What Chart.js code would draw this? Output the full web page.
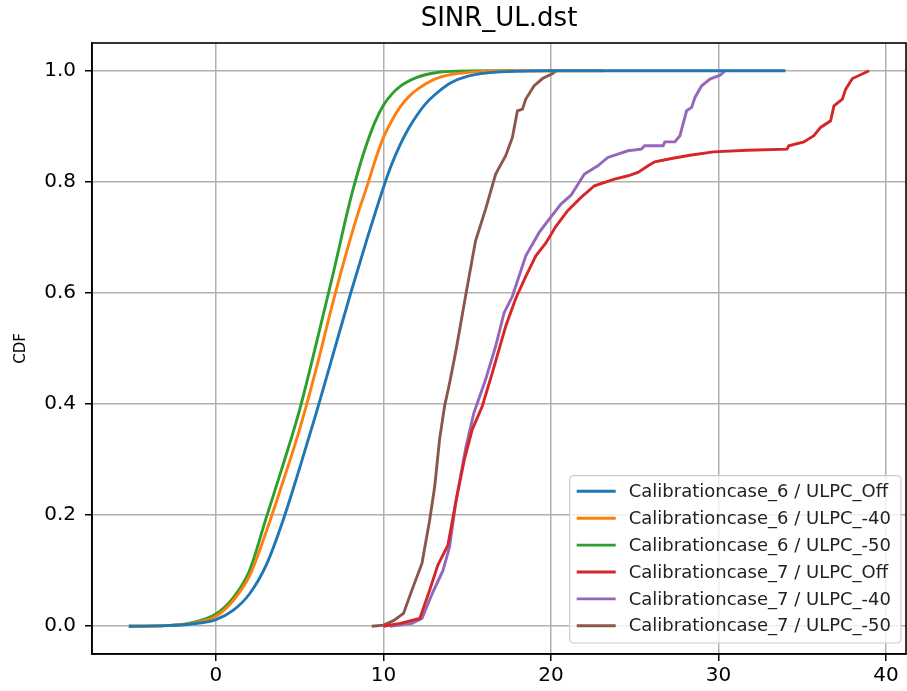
<!DOCTYPE html>
<html>
<head>
<meta charset="utf-8">
<script src="https://cdn.jsdelivr.net/npm/chart.js@4.4.1/dist/chart.umd.min.js"></script>
<style>
  body { margin: 0; background: #fff; }
  canvas { display: block; }
</style>
</head>
<body>
<canvas id="cdfChart" width="907" height="691"></canvas>
<script>
// tick positions
const xTicks = [0, 10, 20, 30, 40];
const yTicks = [0, 0.2, 0.4, 0.6, 0.8, 1.0];

const seriesNames = [
    "Calibrationcase_6 / ULPC_Off",
    "Calibrationcase_6 / ULPC_-40",
    "Calibrationcase_6 / ULPC_-50",
    "Calibrationcase_7 / ULPC_Off",
    "Calibrationcase_7 / ULPC_-40",
    "Calibrationcase_7 / ULPC_-50"
];

// Calibrationcase_6 curves (smooth)
const c6OffX = [-5.2, -3, -1.5, 0, 1, 2, 3, 4, 5, 6, 7, 8, 9, 10, 10.5, 11, 11.5, 12, 12.5, 13, 14, 15, 17, 20, 34];
const c6OffY = [0, 0.001, 0.004, 0.012, 0.028, 0.058, 0.11, 0.19, 0.285, 0.385, 0.49, 0.595, 0.695, 0.79, 0.832, 0.867, 0.896, 0.92, 0.94, 0.955, 0.978, 0.99, 0.998, 1.0, 1.0];

const c6m40X = [-5.2, -3, -1.5, 0, 1, 2, 3, 4, 5, 6, 7, 8, 8.5, 9, 9.5, 10, 10.5, 11, 11.5, 12, 13, 14, 16, 18, 23.1];
const c6m40Y = [0, 0.001, 0.005, 0.018, 0.045, 0.09, 0.17, 0.26, 0.355, 0.465, 0.585, 0.695, 0.745, 0.79, 0.838, 0.88, 0.91, 0.935, 0.953, 0.966, 0.984, 0.993, 0.999, 1.0, 1.0];

const c6m50X = [-5.2, -3, -1.5, 0, 1, 2, 3, 4, 5, 6, 7, 8, 8.5, 9, 9.5, 10, 10.5, 11, 12, 13, 14, 17.8];
const c6m50Y = [0, 0.001, 0.006, 0.022, 0.05, 0.1, 0.195, 0.29, 0.39, 0.51, 0.635, 0.765, 0.82, 0.868, 0.908, 0.938, 0.958, 0.972, 0.988, 0.996, 0.999, 1.0];

// Calibrationcase_7 curves (jagged)
const c7OffX = [10.0, 11.0, 12.17, 12.76, 13.25, 13.85, 14.34, 14.83, 15.3, 15.9, 16.5, 17.3, 17.9, 18.5, 19.1, 19.7, 20.3, 21.0, 21.8, 22.6, 23.8, 24.6, 25.2, 25.8, 26.2, 27.2, 28.3, 29.7, 31.7, 34.1, 34.2, 35.1, 35.7, 36.1, 36.7, 36.9, 37.4, 37.6, 38.0, 39.0];
const c7OffY = [0, 0.005, 0.014, 0.065, 0.11, 0.146, 0.227, 0.30, 0.354, 0.396, 0.456, 0.54, 0.59, 0.63, 0.667, 0.69, 0.72, 0.748, 0.772, 0.793, 0.805, 0.811, 0.817, 0.829, 0.836, 0.842, 0.848, 0.854, 0.857, 0.859, 0.865, 0.872, 0.883, 0.898, 0.91, 0.937, 0.949, 0.967, 0.986, 1.0];

const c7m40X = [10.4, 11.7, 12.3, 12.96, 13.55, 13.95, 14.34, 14.93, 15.4, 16.1, 16.7, 17.2, 17.7, 18.5, 19.3, 19.9, 20.6, 21.2, 22.0, 22.8, 23.4, 24.6, 25.4, 25.6, 26.7, 26.8, 27.4, 27.7, 28.1, 28.4, 28.6, 29.0, 29.5, 30.1, 30.4];
const c7m40Y = [0, 0.005, 0.014, 0.062, 0.10, 0.143, 0.227, 0.323, 0.384, 0.444, 0.504, 0.564, 0.594, 0.667, 0.709, 0.733, 0.76, 0.776, 0.814, 0.829, 0.844, 0.856, 0.859, 0.865, 0.865, 0.872, 0.872, 0.883, 0.928, 0.934, 0.952, 0.973, 0.985, 0.992, 1.0];

const c7m50X = [9.3, 10.0, 10.6, 11.2, 11.7, 12.3, 12.76, 13.06, 13.35, 13.65, 13.95, 14.34, 14.83, 15.5, 16.1, 16.7, 17.3, 17.7, 18.0, 18.3, 18.5, 19.0, 19.5, 20.1, 20.3];
const c7m50Y = [0, 0.002, 0.01, 0.023, 0.065, 0.113, 0.191, 0.251, 0.336, 0.396, 0.438, 0.498, 0.582, 0.694, 0.751, 0.814, 0.847, 0.88, 0.928, 0.931, 0.949, 0.973, 0.986, 0.995, 1.0];

const colors = ["#1f77b4", "#ff7f0e", "#2ca02c", "#d62728", "#9467bd", "#8c564b"];

function toPoints(xs, ys) {
    return xs.map((x, i) => ({ x: x, y: ys[i] }));
}

const allX = [c6OffX, c6m40X, c6m50X, c7OffX, c7m40X, c7m50X];
const allY = [c6OffY, c6m40Y, c6m50Y, c7OffY, c7m40Y, c7m50Y];

const datasets = seriesNames.map((name, i) => ({
    label: name,
    data: toPoints(allX[i], allY[i]),
    borderColor: colors[i],
    backgroundColor: colors[i],
    borderWidth: 2.9,
    pointRadius: 0,
    showLine: true,
    fill: false,
    cubicInterpolationMode: i < 3 ? "monotone" : "default",
    tension: 0
}));

// frame on top/right + legend box inside plot (matplotlib style)
const framePlugin = {
    id: "frameAndLegend",
    afterDatasetsDraw(chart) {
        const ctx = chart.ctx;
        const a = chart.chartArea;
        ctx.save();
        ctx.strokeStyle = "#000";
        ctx.lineWidth = 1.6;
        ctx.strokeRect(a.left, a.top, a.right - a.left, a.bottom - a.top);

        // legend
        const fontSize = 18;
        ctx.font = fontSize + "px 'DejaVu Sans'";
        const rowH = 26.9;
        let textW = 0;
        chart.data.datasets.forEach(ds => { textW = Math.max(textW, ctx.measureText(ds.label).width); });
        const boxW = 59 + textW + 10;
        const boxH = rowH * chart.data.datasets.length + 6;
        const bx = a.right - 5 - boxW;
        const by = a.bottom - 11 - boxH;

        ctx.beginPath();
        ctx.roundRect(bx, by, boxW, boxH, 4);
        ctx.fillStyle = "rgba(255,255,255,0.8)";
        ctx.fill();
        ctx.strokeStyle = "#cccccc";
        ctx.lineWidth = 1.2;
        ctx.stroke();

        chart.data.datasets.forEach((ds, i) => {
            const cy = by + 15.7 + i * rowH;
            ctx.beginPath();
            ctx.moveTo(bx + 7, cy);
            ctx.lineTo(bx + 46, cy);
            ctx.strokeStyle = ds.borderColor;
            ctx.lineWidth = 2.9;
            ctx.stroke();
            ctx.fillStyle = "#222";
            ctx.textBaseline = "middle";
            ctx.textAlign = "left";
            ctx.fillText(ds.label, bx + 59, cy + 1);
        });
        ctx.restore();
    }
};

Chart.defaults.font.family = "'DejaVu Sans', sans-serif";
Chart.defaults.color = "#000";

new Chart(document.getElementById("cdfChart"), {
    type: "scatter",
    data: { datasets: datasets },
    options: {
        responsive: false,
        animation: false,
        layout: { padding: { top: 0, right: 1, left: 0, bottom: 0 } },
        plugins: {
            legend: { display: false },
            tooltip: { enabled: false },
            title: {
                display: true,
                fullSize: false,
                text: "SINR_UL.dst",
                font: { size: 26, weight: "normal" },
                color: "#000",
                padding: { top: 4, bottom: 7.8 }
            }
        },
        scales: {
            x: {
                type: "linear",
                min: -7.4,
                max: 41.2,
                afterBuildTicks: scale => { scale.ticks = xTicks.map(v => ({ value: v })); },
                afterFit: scale => { scale.height = 37; },
                ticks: {
                    font: { size: 20 },
                    color: "#000",
                    padding: 3,
                    maxRotation: 0,
                    callback: v => String(v)
                },
                grid: { color: "#b0b0b0", lineWidth: 1.5, tickColor: "#000", tickLength: 7, tickWidth: 1.5 },
                border: { color: "#000", width: 1.6 }
            },
            y: {
                type: "linear",
                min: -0.05,
                max: 1.05,
                afterBuildTicks: scale => { scale.ticks = yTicks.map(v => ({ value: v })); },
                afterFit: scale => { scale.width = 92; },
                ticks: {
                    font: { size: 20 },
                    color: "#000",
                    padding: 9,
                    callback: v => v.toFixed(1)
                },
                title: {
                    display: true,
                    text: "CDF",
                    font: { size: 15 },
                    color: "#000",
                    padding: { top: 12, bottom: 0 }
                },
                grid: { color: "#b0b0b0", lineWidth: 1.5, tickColor: "#000", tickLength: 7, tickWidth: 1.5 },
                border: { color: "#000", width: 1.6 }
            }
        }
    },
    plugins: [framePlugin]
});
</script>
</body>
</html>
